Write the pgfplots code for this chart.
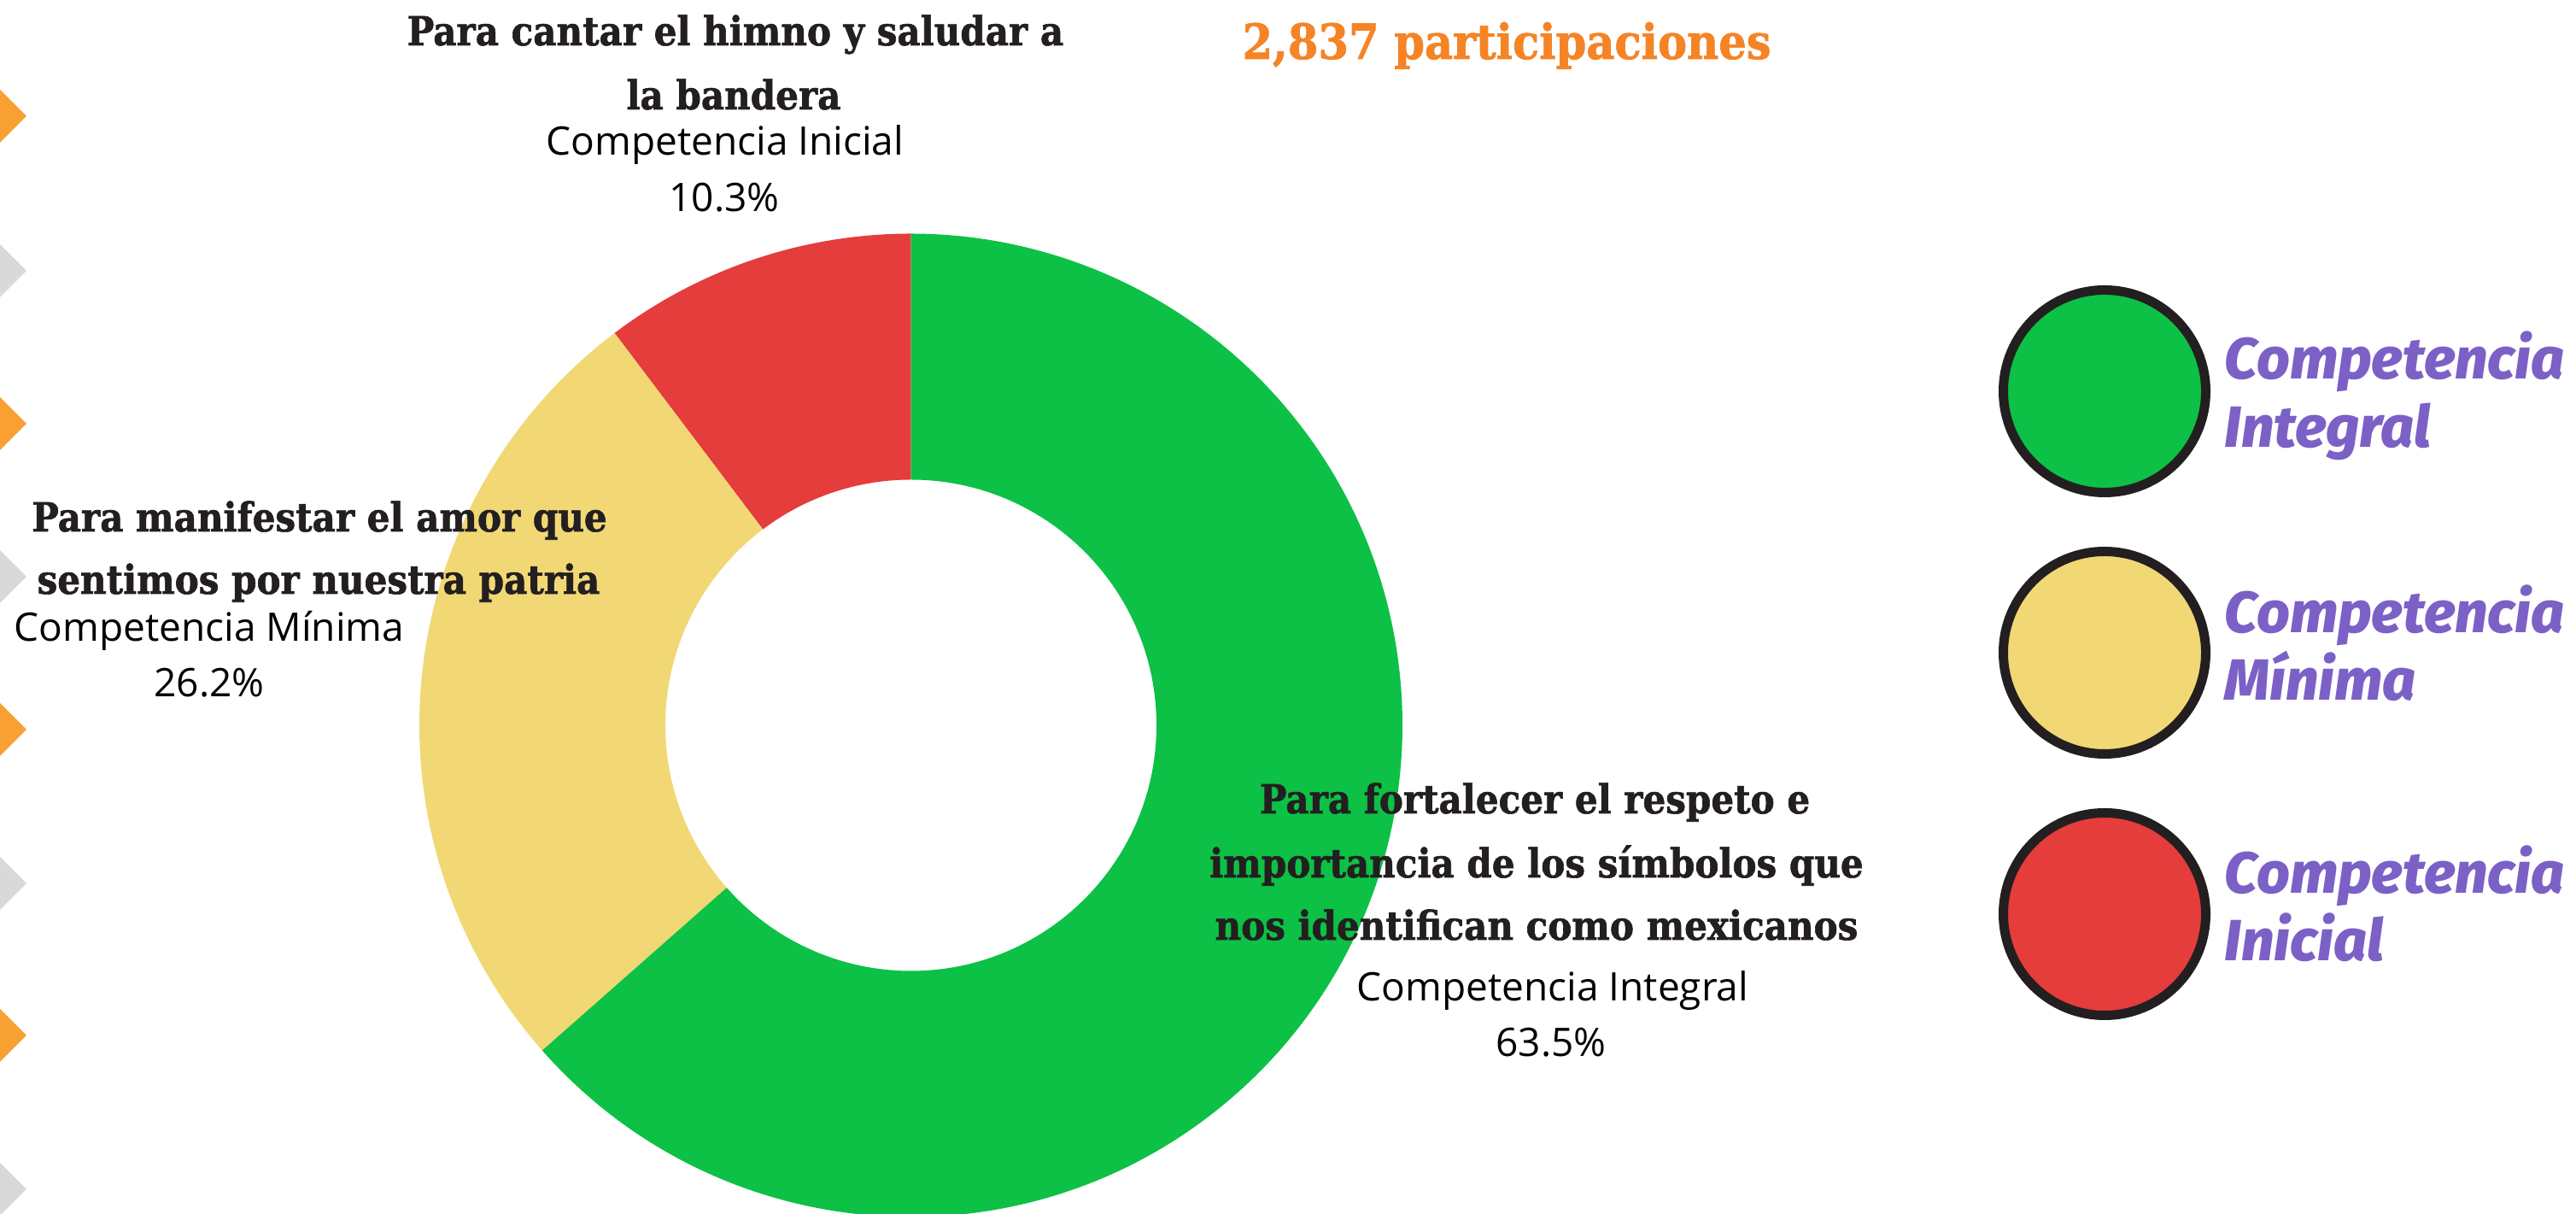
\documentclass[border=0pt]{standalone}
\usepackage{fontspec}
\usepackage{pgfplots}
\pgfplotsset{compat=1.18}
\setmainfont{Open Sans}
\newfontfamily\slab{DejaVu Serif Condensed}[BoldFeatures={FakeBold=1.3}]
\newfontfamily\legf{Fira Sans}[BoldItalicFont={* ExtraBold Italic}]

\definecolor{cGreen}{HTML}{0CC145}
\definecolor{cYellow}{HTML}{F1D875}
\definecolor{cRed}{HTML}{E53C3C}
\definecolor{cDark}{HTML}{231F20}
\definecolor{cPurple}{HTML}{7B61C6}
\definecolor{cOrange}{HTML}{F58426}
\definecolor{cChevO}{HTML}{F9A032}
\definecolor{cChevG}{HTML}{D9D9D9}

% shares (percent)
\def\vIni{10.3}
\def\vMin{26.2}
\def\vInt{63.5}
\pgfmathsetmacro\aA{90}
\pgfmathsetmacro\aB{\aA+3.6*\vIni}
\pgfmathsetmacro\aC{\aB+3.6*\vMin}
\pgfmathsetmacro\aD{\aC+3.6*\vInt}
\def\Ro{143.875pt}
\def\Ri{71.875pt}

\begin{document}
\begin{tikzpicture}
\begin{axis}[
  hide axis, scale only axis,
  width=754pt, height=355.25pt,
  xmin=0, xmax=3016, ymin=0, ymax=1421,
]
% left chevrons
\fill[cChevO] (axis cs:-20,1336) -- (axis cs:31,1285) -- (axis cs:-20,1234) -- cycle;
\fill[cChevG] (axis cs:-20,1155) -- (axis cs:31,1104) -- (axis cs:-20,1053) -- cycle;
\fill[cChevO] (axis cs:-20,976) -- (axis cs:31,925) -- (axis cs:-20,874) -- cycle;
\fill[cChevG] (axis cs:-20,797) -- (axis cs:31,746) -- (axis cs:-20,695) -- cycle;
\fill[cChevO] (axis cs:-20,618) -- (axis cs:31,567) -- (axis cs:-20,516) -- cycle;
\fill[cChevG] (axis cs:-20,438) -- (axis cs:31,387) -- (axis cs:-20,336) -- cycle;
\fill[cChevO] (axis cs:-20,260) -- (axis cs:31,209) -- (axis cs:-20,158) -- cycle;
\fill[cChevG] (axis cs:-20,80) -- (axis cs:31,29) -- (axis cs:-20,-22) -- cycle;

% donut
\begin{scope}[shift={(axis cs:1066.5,572)}]
\fill[cRed] (\aA:\Ro) arc[start angle=\aA, end angle=\aB, radius=\Ro] -- (\aB:\Ri) arc[start angle=\aB, end angle=\aA, radius=\Ri] -- cycle;
\fill[cYellow] (\aB:\Ro) arc[start angle=\aB, end angle=\aC, radius=\Ro] -- (\aC:\Ri) arc[start angle=\aC, end angle=\aB, radius=\Ri] -- cycle;
\fill[cGreen] (\aC:\Ro) arc[start angle=\aC, end angle=\aD, radius=\Ro] -- (\aD:\Ri) arc[start angle=\aD, end angle=\aC, radius=\Ri] -- cycle;
\end{scope}

% header
\node[anchor=base, text=cOrange, font=\slab\bfseries\fontsize{14.2pt}{16pt}\selectfont] at (axis cs:1764,1352) {2,837 participaciones};

% slice labels
\tikzset{ttl/.style={anchor=base, text=cDark, font=\slab\bfseries\fontsize{11.7pt}{13pt}\selectfont, inner sep=0pt},
         sub/.style={anchor=base, text=black, font=\fontsize{11.5pt}{13pt}\selectfont, inner sep=0pt}}
\node[ttl] at (axis cs:861,1368) {Para cantar el himno y saludar a};
\node[ttl] at (axis cs:859,1293) {la bandera};
\node[sub] at (axis cs:849,1239) {Competencia Inicial};
\node[sub] at (axis cs:848,1173) {10.3\%};

\node[ttl] at (axis cs:374,799) {Para manifestar el amor que};
\node[ttl] at (axis cs:373,726) {sentimos por nuestra patria};
\node[sub] at (axis cs:245,670) {Competencia Mínima};
\node[sub] at (axis cs:245,605) {26.2\%};

\node[ttl] at (axis cs:1797,469) {Para fortalecer el respeto e};
\node[ttl] at (axis cs:1799,394) {importancia de los símbolos que};
\node[ttl] at (axis cs:1799,321) {nos identifican como mexicanos};
\node[sub] at (axis cs:1818,249) {Competencia Integral};
\node[sub] at (axis cs:1816,184) {63.5\%};

% legend
\draw[cDark, line width=2.75pt, fill=cGreen] (axis cs:2464,963) circle[radius=29.625pt];
\draw[cDark, line width=2.75pt, fill=cYellow] (axis cs:2464,657) circle[radius=29.625pt];
\draw[cDark, line width=2.75pt, fill=cRed] (axis cs:2464,351) circle[radius=29.625pt];
\tikzset{lg/.style={anchor=base west, text=cPurple, font=\legf\bfseries\itshape\fontsize{17pt}{19pt}\selectfont, inner sep=0pt}}
\node[lg] at (axis cs:2604,977) {Competencia};
\node[lg] at (axis cs:2604,897) {Integral};
\node[lg] at (axis cs:2604,680) {Competencia};
\node[lg] at (axis cs:2604,601) {Mínima};
\node[lg] at (axis cs:2604,375) {Competencia};
\node[lg] at (axis cs:2604,296) {Inicial};
\end{axis}
\pgfresetboundingbox
\useasboundingbox (current axis.south west) rectangle (current axis.north east);
\end{tikzpicture}
\end{document}
